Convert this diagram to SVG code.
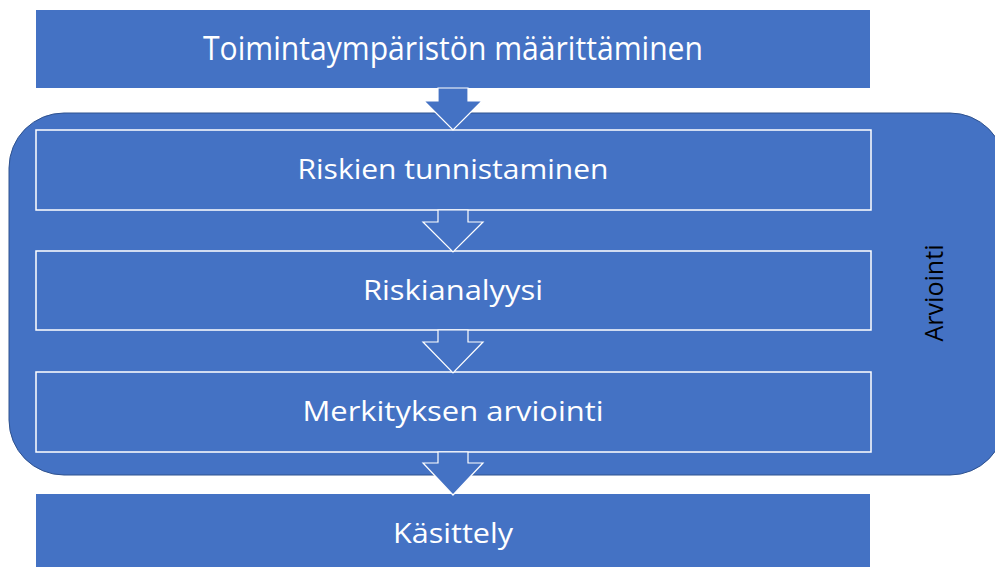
<svg xmlns="http://www.w3.org/2000/svg" width="995" height="567" viewBox="0 0 995 567">
  <style>
    .solid { fill: #4472C4; }
    .group { fill: #4472C4; stroke: #2F528F; stroke-width: 1; }
    .step { fill: #4472C4; stroke: #FFFFFF; stroke-width: 1.5; }
    .arrow { fill: #4472C4; stroke: #FFFFFF; stroke-width: 1.2; stroke-linejoin: miter; }
    .lbl { font-family: "Open Sans", "Noto Sans", "Liberation Sans", sans-serif; fill: #FFFFFF; text-anchor: middle; }
    .side { font-family: "Open Sans", "Noto Sans", "Liberation Sans", sans-serif; fill: #000000; text-anchor: middle; font-size: 26px; }
  </style>
  <rect width="995" height="567" fill="#FFFFFF"/>

  <g id="toimintaymparisto">
    <rect class="solid" x="36" y="10" width="834" height="78"/>
    <text class="lbl" x="453" y="60" font-size="33" textLength="500" lengthAdjust="spacingAndGlyphs">Toimintaympäristön määrittäminen</text>
  </g>

  <g id="arviointi">
    <rect class="group" x="9" y="113" width="996" height="362" rx="55" ry="55"/>
    <text class="side" x="943" y="293" transform="rotate(-90 943 293)" textLength="97" lengthAdjust="spacingAndGlyphs">Arviointi</text>
  </g>

  <g id="riskien-tunnistaminen">
    <rect class="step" x="36" y="130" width="835" height="80"/>
    <text class="lbl" x="453" y="179" font-size="27" textLength="311" lengthAdjust="spacingAndGlyphs">Riskien tunnistaminen</text>
  </g>

  <g id="riskianalyysi">
    <rect class="step" x="36" y="251" width="835" height="79"/>
    <text class="lbl" x="453" y="300" font-size="27" textLength="180" lengthAdjust="spacingAndGlyphs">Riskianalyysi</text>
  </g>

  <g id="merkityksen-arviointi">
    <rect class="step" x="36" y="372" width="835" height="80"/>
    <text class="lbl" x="453" y="421" font-size="27" textLength="301" lengthAdjust="spacingAndGlyphs">Merkityksen arviointi</text>
  </g>

  <g id="kasittely">
    <rect class="solid" x="36" y="494" width="834" height="80"/>
    <text class="lbl" x="453" y="543" font-size="27" textLength="120" lengthAdjust="spacingAndGlyphs">Käsittely</text>
  </g>

  <g id="connectors">
    <path class="arrow" d="M438,88 L468,88 L468,101 L482,101 L453,130 L424,101 L438,101 Z"/>
    <path class="arrow" d="M438,210 L468,210 L468,222 L483,222 L453,252 L423,222 L438,222 Z"/>
    <path class="arrow" d="M438,330 L468,330 L468,342 L483,342 L453,373 L423,342 L438,342 Z"/>
    <path class="arrow" d="M438,452 L468,452 L468,463 L483,463 L453,495 L423,463 L438,463 Z"/>
  </g>
</svg>
